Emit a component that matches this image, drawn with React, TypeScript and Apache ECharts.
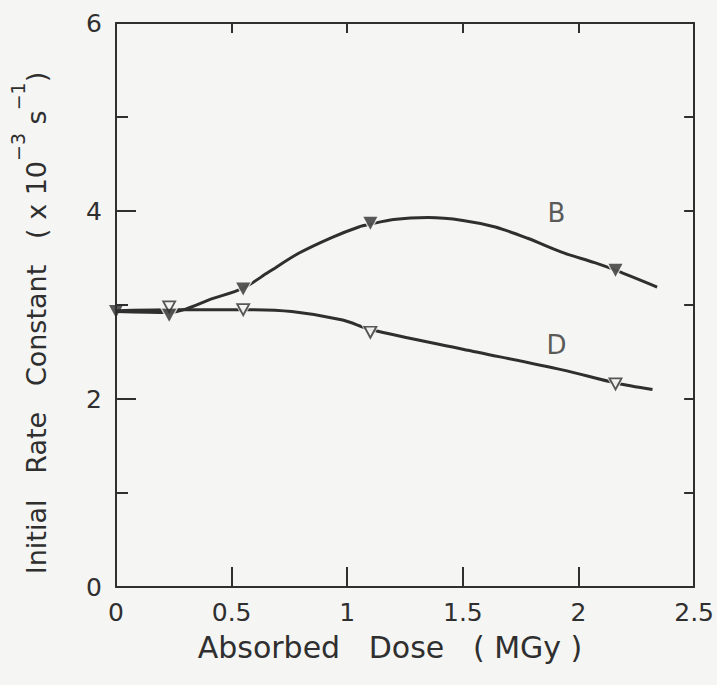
import React, { useEffect, useRef } from "react";
import * as echarts from "echarts";

// Measured points (Absorbed dose in MGy, initial rate constant in 1e-3 s^-1)
const doseB = [0, 0.23, 0.55, 1.1, 2.16];
const rateB = [2.93, 2.89, 3.17, 3.87, 3.37];
const doseD = [0.23, 0.55, 1.1, 2.16];
const rateD = [2.98, 2.95, 2.71, 2.16];

// Hand-drawn smooth curves
const curveBDose = [0, 0.23, 0.42, 0.55, 0.66, 0.79, 0.935, 1.05, 1.1, 1.2, 1.35, 1.5, 1.64, 1.78, 1.93, 2.07, 2.16, 2.34];
const curveBRate = [2.93, 2.92, 3.07, 3.18, 3.35, 3.55, 3.72, 3.83, 3.86, 3.91, 3.93, 3.9, 3.83, 3.71, 3.56, 3.45, 3.37, 3.19];
const curveDDose = [0, 0.23, 0.55, 0.76, 0.98, 1.1, 1.5, 1.93, 2.16, 2.32];
const curveDRate = [2.94, 2.95, 2.95, 2.93, 2.84, 2.74, 2.53, 2.31, 2.17, 2.1];

// Curve labels
const labelNames = ["B", "D"];
const labelDose = [1.905, 1.905];
const labelRate = [3.98, 2.57];

const xTicks = [0, 0.5, 1, 1.5, 2, 2.5];
const yTicks = [0, 2, 4, 6];

const INK = "#2f2f2f";
const BG = "#f5f5f3";
const FONT = '"DejaVu Sans", "Liberation Sans", sans-serif';

const zip = (a: number[], b: number[]) => a.map((v, i) => [v, b[i]]);

export default function App() {
  const ref = useRef<HTMLDivElement>(null);
  useEffect(() => {
    if (!ref.current) return;
    const chart = echarts.init(ref.current, null, { renderer: "svg" });
    const axisLine = { show: true, onZero: false, lineStyle: { color: INK, width: 2 } };
    const option: any = {
      animation: false,
      backgroundColor: BG,
      grid: { left: 116, top: 23, right: 20, bottom: 98 },
      xAxis: [
        {
          type: "value",
          min: xTicks[0],
          max: xTicks[xTicks.length - 1],
          interval: 0.5,
          position: "bottom",
          axisLine,
          axisTick: { show: true, inside: true, length: 20, lineStyle: { color: INK, width: 2 } },
          axisLabel: {
            color: INK,
            fontSize: 25,
            fontFamily: FONT,
            margin: 13,
            formatter: (v: number) => String(v),
          },
          splitLine: { show: false },
        },
        {
          type: "value",
          min: xTicks[0],
          max: xTicks[xTicks.length - 1],
          interval: 0.5,
          position: "top",
          axisLine,
          axisTick: { show: true, inside: true, length: 10, lineStyle: { color: INK, width: 2 } },
          axisLabel: { show: false },
          splitLine: { show: false },
        },
      ],
      yAxis: [
        {
          type: "value",
          min: yTicks[0],
          max: yTicks[yTicks.length - 1],
          interval: 2,
          position: "left",
          axisLine,
          axisTick: { show: true, inside: true, length: 20, lineStyle: { color: INK, width: 2 } },
          minorTick: { show: true, splitNumber: 2, length: 12, lineStyle: { color: INK, width: 2 } },
          axisLabel: { color: INK, fontSize: 25, fontFamily: FONT, margin: 14 },
          splitLine: { show: false },
        },
        {
          type: "value",
          min: yTicks[0],
          max: yTicks[yTicks.length - 1],
          interval: 1,
          position: "right",
          axisLine,
          axisTick: { show: true, inside: true, length: 10, lineStyle: { color: INK, width: 2 } },
          axisLabel: { show: false },
          splitLine: { show: false },
        },
      ],
      series: [
        {
          name: "B curve",
          type: "line",
          data: zip(curveBDose, curveBRate),
          smooth: 0.3,
          showSymbol: false,
          lineStyle: { color: INK, width: 3 },
          z: 2,
        },
        {
          name: "D curve",
          type: "line",
          data: zip(curveDDose, curveDRate),
          smooth: 0.3,
          showSymbol: false,
          lineStyle: { color: INK, width: 3 },
          z: 2,
        },
        {
          name: "D halo",
          type: "scatter",
          data: zip(doseD, rateD).filter((p) => p[0] > 0),
          symbol: "triangle",
          symbolRotate: 180,
          symbolSize: [20, 18],
          itemStyle: { color: BG },
          z: 3,
        },
        {
          name: "B halo",
          type: "scatter",
          data: zip(doseB, rateB).filter((p) => p[0] > 0),
          symbol: "triangle",
          symbolRotate: 180,
          symbolSize: [20, 18],
          itemStyle: { color: BG },
          z: 3,
        },
        {
          name: "D",
          type: "scatter",
          data: zip(doseD, rateD),
          symbol: "triangle",
          symbolRotate: 180,
          symbolSize: [12, 11],
          itemStyle: { color: BG, borderColor: INK, borderWidth: 1.8 },
          z: 4,
        },
        {
          name: "B",
          type: "scatter",
          data: zip(doseB, rateB),
          symbol: "triangle",
          symbolRotate: 180,
          symbolSize: [14, 13],
          itemStyle: { color: INK },
          z: 5,
        },
        {
          name: "labels",
          type: "scatter",
          data: labelNames.map((n, i) => [labelDose[i], labelRate[i], n]),
          symbolSize: 0,
          label: {
            show: true,
            position: "inside",
            formatter: (p: any) => p.value[2],
            color: INK,
            fontSize: 26,
            fontFamily: FONT,
          },
          z: 6,
        },
      ],
      graphic: [
        {
          type: "text",
          x: 390,
          y: 647,
          style: {
            text: "Absorbed   Dose   ( MGy )",
            font: `30px ${FONT}`,
            fill: INK,
            align: "center",
            verticalAlign: "middle",
          },
        },
        {
          type: "text",
          x: 29,
          y: 323,
          rotation: Math.PI / 2,
          style: {
            text: "{m|Initial   Rate   Constant   ( x 10}{s|−3}{m| s}{s|−1}{m|)}",
            fill: INK,
            align: "center",
            verticalAlign: "middle",
            rich: {
              m: { font: `27px ${FONT}`, fill: INK, lineHeight: 42, verticalAlign: "bottom" },
              s: { font: `19px ${FONT}`, fill: INK, verticalAlign: "top" },
            },
          },
        },
      ],
    };
    chart.setOption(option);
    return () => chart.dispose();
  }, []);
  return (
    <div
      ref={ref}
      style={{ position: "fixed", left: 0, top: 0, width: 717, height: 685, background: BG }}
    />
  );
}
